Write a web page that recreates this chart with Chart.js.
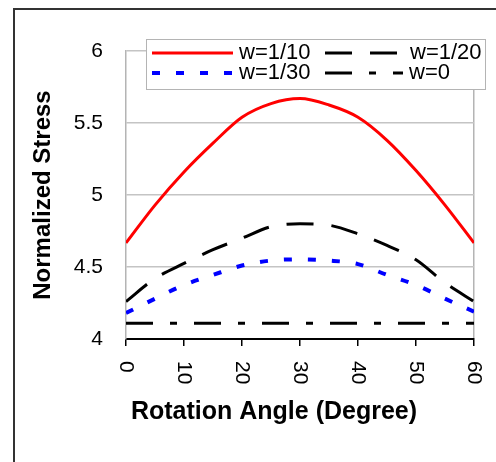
<!DOCTYPE html>
<html>
<head>
<meta charset="utf-8">
<script src="https://cdn.jsdelivr.net/npm/chart.js@4"></script>
<style>
  body { margin: 0; background: #fff; }
  #wrap { position: relative; width: 496px; height: 462px; overflow: hidden; }
  #frame { position: absolute; left: 13px; top: 8px; width: 600px; height: 600px;
           border-left: 2px solid #333; border-top: 2px solid #333; }
  canvas { position: absolute; left: 0; top: 0; }
</style>
</head>
<body>
<div id="wrap">
  <div id="frame"></div>
  <canvas id="stressChart" width="496" height="462"></canvas>
</div>
<script>
// rotation angle in degrees
const angles = [0, 5, 10, 15, 20, 25, 30, 35, 40, 45, 50, 55, 60];
const w10 = [4.667, 4.93, 5.16, 5.36, 5.54, 5.635, 5.67, 5.625, 5.54, 5.38, 5.17, 4.93, 4.667];
const w20 = [4.26, 4.42, 4.525, 4.62, 4.70, 4.78, 4.80, 4.79, 4.73, 4.65, 4.55, 4.39, 4.26];
const w30 = [4.18, 4.28, 4.375, 4.445, 4.51, 4.545, 4.553, 4.545, 4.52, 4.445, 4.375, 4.28, 4.19];
const w0 = [4.11, 4.11, 4.11, 4.11, 4.11, 4.11, 4.11, 4.11, 4.11, 4.11, 4.11, 4.11, 4.11];
const xTicks = [0, 10, 20, 30, 40, 50, 60];
const yTicks = [4, 4.5, 5, 5.5, 6];
const seriesNames = ['w=1/10', 'w=1/20', 'w=1/30', 'w=0'];

const toPts = (ys) => ys.map((y, i) => ({ x: angles[i], y: y }));

// legend box + rotated x labels + x title drawn by hand
const extras = {
  id: 'extras',
  afterDatasetsDraw(chart) {
    const ctx = chart.ctx;
    const xs = chart.scales.x;
    ctx.save();
    ctx.fillStyle = '#000';
    ctx.font = '21px "Liberation Sans", Arial, sans-serif';
    ctx.textAlign = 'left';
    ctx.textBaseline = 'middle';
    xTicks.forEach((t) => {
      ctx.save();
      ctx.translate(xs.getPixelForValue(t), 361);
      ctx.rotate(Math.PI / 2);
      ctx.fillText(String(t), 0, 0);
      ctx.restore();
    });
    ctx.font = 'bold 25px "Liberation Sans", Arial, sans-serif';
    ctx.textAlign = 'center';
    ctx.fillText('Rotation Angle (Degree)', 274, 412);

    // legend
    ctx.fillStyle = '#fff';
    ctx.fillRect(146, 39, 339, 50);
    ctx.strokeStyle = '#b4b4b4';
    ctx.lineWidth = 1;
    ctx.strokeRect(146.5, 39.5, 339, 50);
    const slots = [[152, 233, 239, 53], [325, 399, 410, 53], [152, 233, 239, 73], [325, 403, 409, 73]];
    chart.data.datasets.forEach((ds, i) => {
      const [x1, x2, tx, y] = slots[i];
      ctx.beginPath();
      ctx.strokeStyle = ds.borderColor;
      ctx.lineWidth = ds.borderWidth;
      ctx.setLineDash(ds.borderDash || []);
      ctx.moveTo(x1, y);
      ctx.lineTo(x2, y);
      ctx.stroke();
      ctx.setLineDash([]);
      ctx.fillStyle = '#000';
      ctx.font = '22px "Liberation Sans", Arial, sans-serif';
      ctx.textAlign = 'left';
      ctx.fillText(ds.label, tx, y);
    });
    ctx.restore();
  }
};

new Chart(document.getElementById('stressChart'), {
  type: 'line',
  data: {
    datasets: [
      { label: seriesNames[0], data: toPts(w10), borderColor: '#ff0000', borderWidth: 3 },
      { label: seriesNames[1], data: toPts(w20), borderColor: '#000000', borderWidth: 3, borderDash: [27, 18] },
      { label: seriesNames[2], data: toPts(w30), borderColor: '#0000ff', borderWidth: 4, borderDash: [8, 16] },
      { label: seriesNames[3], data: toPts(w0), borderColor: '#000000', borderWidth: 3, borderDash: [27, 17, 7, 17] }
    ]
  },
  options: {
    responsive: false,
    animation: false,
    layout: { padding: { left: 30, right: 22, top: 51, bottom: 30 } },
    elements: { point: { radius: 0 }, line: { cubicInterpolationMode: 'monotone', fill: false } },
    plugins: { legend: { display: false }, tooltip: { enabled: false } },
    scales: {
      x: {
        type: 'linear', min: 0, max: 60,
        afterBuildTicks: (s) => { s.ticks = xTicks.map((v) => ({ value: v })); },
        afterFit: (s) => { s.height = 93; },
        ticks: { display: false },
        border: { color: '#000', width: 2 },
        grid: {
          color: (c) => (c.index === xTicks.length - 1 ? '#b4b4b4' : 'rgba(0,0,0,0)'),
          tickColor: '#000', tickLength: 7, lineWidth: 1.5
        }
      },
      y: {
        min: 4, max: 6,
        afterBuildTicks: (s) => { s.ticks = yTicks.map((v) => ({ value: v })); },
        afterFit: (s) => { s.width = 96; },
        ticks: {
          color: '#000', padding: 23,
          font: { family: '"Liberation Sans", Arial, sans-serif', size: 21 },
          callback: (v) => String(v)
        },
        border: { color: '#b4b4b4', width: 1.5 },
        grid: { color: '#c4c4c4', lineWidth: 1.5, drawTicks: false },
        title: {
          display: true, text: 'Normalized Stress', color: '#000',
          font: { family: '"Liberation Sans", Arial, sans-serif', size: 24, weight: 'bold', lineHeight: 1.1 },
          padding: { top: 0, bottom: 0 }
        }
      }
    }
  },
  plugins: [extras]
});
</script>
</body>
</html>
